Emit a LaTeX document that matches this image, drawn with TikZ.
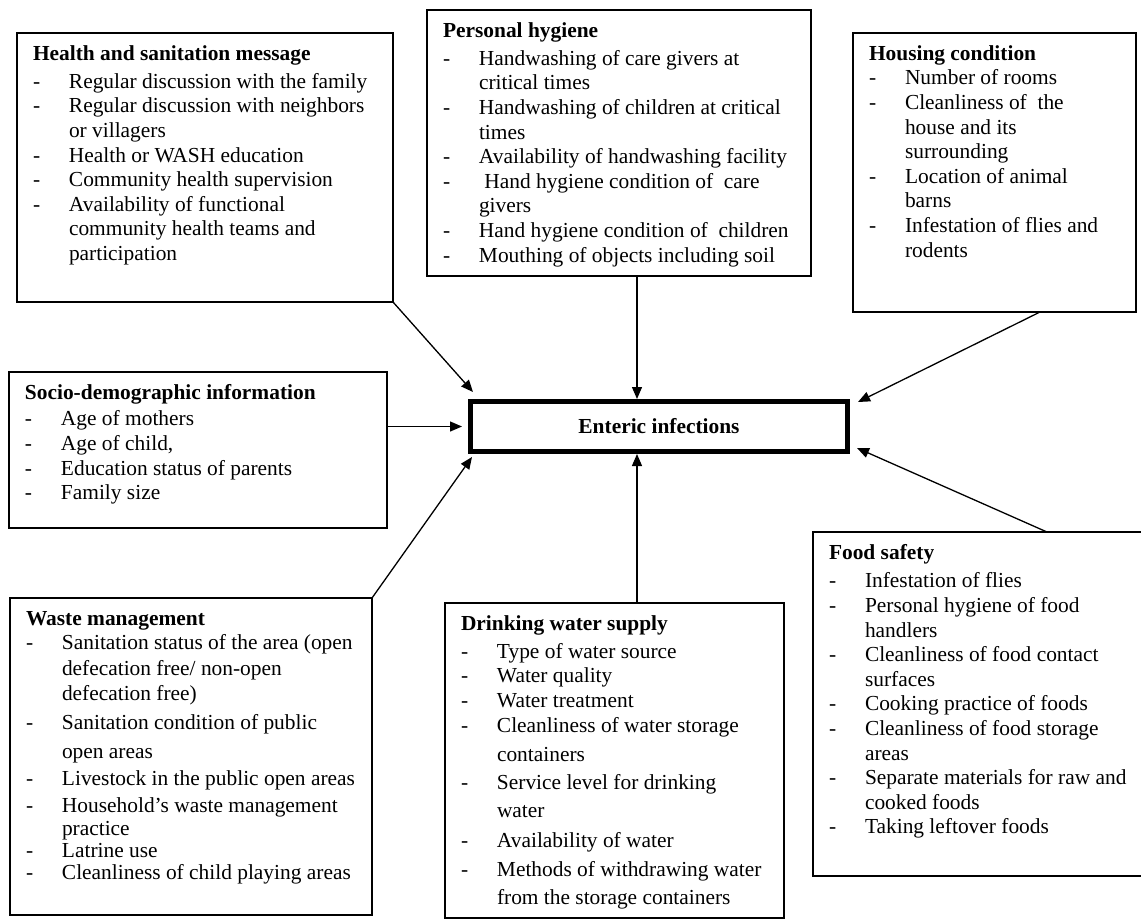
\documentclass[tikz,border=0pt]{standalone}
\usepackage{fontspec}
\setmainfont{Liberation Serif}
\usetikzlibrary{arrows.meta}

% text block of a factor box: #1 width, #2 height (px), #3 lines
\newcommand{\boxbody}[3]{\hspace*{16pt}\parbox[t][\dimexpr#2pt-20pt\relax][t]{\dimexpr#1pt-16pt\relax}{\strut#3}}
\newcommand{\dashit}{\makebox[36pt][l]{-}}
\newcommand{\contit}{\hspace*{36pt}}

\begin{document}
\begin{tikzpicture}[x=1pt, y=-1pt,
		font=\fontsize{21.4pt}{24.6pt}\selectfont,
		factor/.style={draw, line width=1.5pt, anchor=north west, inner xsep=0pt, inner ysep=10pt, outer sep=0pt},
		link/.style={line width=1.3pt, -{Triangle[length=12pt,width=10pt]}}]
		\useasboundingbox (0,0) rectangle (1141,919);
		
		% outcome
		\node[draw, line width=5pt, minimum width=377pt, minimum height=50pt, inner sep=0pt] (enteric) at (659,426.5) {\textbf{Enteric infections}};
		
		% top row
		\node[factor] (health) at (17,33) {\boxbody{376}{269}{%
			\textbf{Health and sanitation message}\\[3.4pt]
			\dashit Regular discussion with the family\\
			\dashit Regular discussion with neighbors\\
			\contit or villagers\\
			\dashit Health or WASH education\\
			\dashit Community health supervision\\
			\dashit Availability of functional\\
			\contit community health teams and\\
			\contit participation}};
		
		\node[factor] (personal) at (427,10) {\boxbody{384}{266}{%
			\textbf{Personal hygiene}\\[3.4pt]
			\dashit Handwashing of care givers at\\
			\contit critical times\\
			\dashit Handwashing of children at critical\\
			\contit times\\
			\dashit Availability of handwashing facility\\
			\dashit \ Hand hygiene condition of \ care\\
			\contit givers\\
			\dashit Hand hygiene condition of \ children\\
			\dashit Mouthing of objects including soil}};
		
		\node[factor] (housing) at (853,33) {\boxbody{283}{279}{%
			\textbf{Housing condition}\\
			\dashit Number of rooms\\
			\dashit Cleanliness of \ the\\
			\contit house and its\\
			\contit surrounding\\
			\dashit Location of animal\\
			\contit barns\\
			\dashit Infestation of flies and\\
			\contit rodents}};
		
		% middle left
		\node[factor] (socio) at (9,372) {\boxbody{378}{156}{%
			\textbf{Socio-demographic information}\\[2pt]
			\dashit Age of mothers\\
			\dashit Age of child,\\
			\dashit Education status of parents\\
			\dashit Family size}};
		
		% bottom row
		\node[factor] (waste) at (10,598) {\boxbody{362}{317}{%
			\textbf{Waste management}\\
			\dashit Sanitation status of the area (open\\[1.4pt]
			\contit defecation free/ non-open\\
			\contit defecation free)\\[4.4pt]
			\dashit Sanitation condition of public\\[4.4pt]
			\contit open areas\\[2.4pt]
			\dashit Livestock in the public open areas\\[2.4pt]
			\dashit Household’s waste management\\[-1.6pt]
			\contit practice\\[-2.6pt]
			\dashit Latrine use\\[-2.6pt]
			\dashit Cleanliness of child playing areas}};
		
		\node[factor] (drinking) at (445,603) {\boxbody{339}{315}{%
			\textbf{Drinking water supply}\\[3.4pt]
			\dashit Type of water source\\
			\dashit Water quality\\
			\dashit Water treatment\\
			\dashit Cleanliness of water storage\\[4.4pt]
			\contit containers\\[3.4pt]
			\dashit Service level for drinking\\[3.4pt]
			\contit water\\[5.4pt]
			\dashit Availability of water\\[4.4pt]
			\dashit Methods of withdrawing water\\[3.4pt]
			\contit from the storage containers}};
		
		\node[factor] (food) at (813,532) {\boxbody{331}{344}{%
			\textbf{Food safety}\\[4pt]
			\dashit Infestation of flies\\
			\dashit Personal hygiene of food\\
			\contit handlers\\
			\dashit Cleanliness of food contact\\
			\contit surfaces\\
			\dashit Cooking practice of foods\\
			\dashit Cleanliness of food storage\\
			\contit areas\\
			\dashit Separate materials for raw and\\
			\contit cooked foods\\
			\dashit Taking leftover foods}};
		
		% arrows into the outcome
		\draw[link] (health.south east) -- ([shift={(5,-7)}]enteric.north west);
		\draw[link] ([xshift=18pt]personal.south) -- ([xshift=-22pt]enteric.north);
		\draw[link] ([xshift=45.5pt]housing.south) -- ([shift={(8,3)}]enteric.north east);
		\draw[link] (socio.east |- enteric.west) -- ([xshift=-6pt]enteric.west);
		\draw[link] (waste.north east) -- ([shift={(4,3)}]enteric.south west);
		\draw[link] ([xshift=22.5pt]drinking.north) -- ([xshift=-22pt]enteric.south);
		\draw[link] ([xshift=68.5pt]food.north) -- ([shift={(7,-6)}]enteric.south east);
	\end{tikzpicture}
\end{document}
